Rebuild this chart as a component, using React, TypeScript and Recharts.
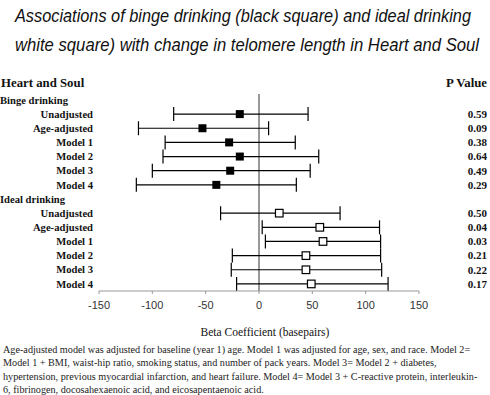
import { ScatterChart, Scatter, XAxis, YAxis, ErrorBar, ReferenceLine } from "recharts";

const TITLE_LINES = [
    "Associations of binge drinking (black square) and ideal drinking",
    "white square) with change in telomere length in Heart and Soul",
];

const ROW_LABELS = ["Unadjusted", "Age-adjusted", "Model 1", "Model 2", "Model 3", "Model 4"];

const BINGE_EST = [-18, -53, -28, -18, -27, -40];
const BINGE_LOW = [-80, -113, -88, -90, -100, -115];
const BINGE_HIGH = [46, 9, 34, 56, 48, 35];
const BINGE_P = ["0.59", "0.09", "0.38", "0.64", "0.49", "0.29"];

const IDEAL_EST = [19, 57, 60, 44, 44, 49];
const IDEAL_LOW = [-36, 3, 6, -25, -26, -21];
const IDEAL_HIGH = [76, 113, 114, 114, 115, 121];
const IDEAL_P = ["0.50", "0.04", "0.03", "0.21", "0.22", "0.17"];

const X_TICKS = [-150, -100, -50, 0, 50, 100, 150];

const FOOTNOTE = [
    "Age-adjusted model was adjusted for baseline (year 1) age. Model 1 was adjusted for age, sex, and race. Model 2=",
    "Model 1 + BMI, waist-hip ratio, smoking status, and number of pack years. Model 3= Model 2 + diabetes,",
    "hypertension, previous myocardial infarction, and heart failure. Model 4= Model 3 + C-reactive protein, interleukin-",
    "6, fibrinogen, docosahexaenoic acid, and eicosapentaenoic acid.",
];

// slot 0 = binge header, 1-6 binge rows, 7 = ideal header, 8-13 ideal rows
const SLOT_LABELS = ["Binge drinking", ...ROW_LABELS, "Ideal drinking", ...ROW_LABELS];
const HEADER_SLOTS = [0, 7];
const SLOT_P = ["", ...BINGE_P, "", ...IDEAL_P];
const SLOTS = SLOT_LABELS.map((_, i) => i);

const bingeData = BINGE_EST.map((est, i) => ({
    est, slot: i + 1, err: [est - BINGE_LOW[i], BINGE_HIGH[i] - est],
}));
const idealData = IDEAL_EST.map((est, i) => ({
    est, slot: i + 8, err: [est - IDEAL_LOW[i], IDEAL_HIGH[i] - est],
}));

const SERIF = "'Liberation Serif', 'Times New Roman', serif";
const SANS = "'Liberation Sans', Arial, sans-serif";

function LeftTick(props: any) {
    const { x, y, payload } = props;
    const isHeader = HEADER_SLOTS.includes(payload.value);
    return (
        <text
            x={isHeader ? x - 93 : x}
            y={y}
            dy="0.35em"
            textAnchor={isHeader ? "start" : "end"}
            fontFamily={SERIF}
            fontWeight="bold"
            fontSize={10.6}
            fill="#111"
        >
            {SLOT_LABELS[payload.value]}
        </text>
    );
}

function RightTick(props: any) {
    const { x, y, payload } = props;
    return (
        <text x={x} y={y} dy="0.35em" textAnchor="end" fontFamily={SERIF} fontWeight="bold" fontSize={11} fill="#111">
            {SLOT_P[payload.value]}
        </text>
    );
}

const blackSquare = (p: any) => <rect x={p.cx - 4} y={p.cy - 4} width={8} height={8} fill="#000" />;
const whiteSquare = (p: any) => (
    <rect x={p.cx - 3.8} y={p.cy - 3.8} width={7.6} height={7.6} fill="#fff" stroke="#000" strokeWidth={1.2} />
);

export default function App() {
    return (
        <div style={{ position: "absolute", left: 0, top: 0, width: 490, height: 395, background: "#fff", overflow: "hidden" }}>
            <svg width={490} height={64} style={{ position: "absolute", left: 0, top: 0 }}>
                <g transform="scale(1,1.2)">
                    <text x={15} y={18.3} fontFamily={SANS} fontStyle="italic" fontSize={15}
                        textLength={456} lengthAdjust="spacingAndGlyphs" fill="#111">
                        {TITLE_LINES[0]}
                    </text>
                    <text x={15} y={42.5} fontFamily={SANS} fontStyle="italic" fontSize={15}
                        textLength={464} lengthAdjust="spacingAndGlyphs" fill="#111">
                        {TITLE_LINES[1]}
                    </text>
                </g>
            </svg>
            <div style={{ position: "absolute", left: 1, top: 76, fontFamily: SERIF, fontWeight: "bold", fontSize: 12.8, color: "#111" }}>
                Heart and Soul
            </div>
            <div style={{ position: "absolute", right: 3, top: 76, fontFamily: SERIF, fontWeight: "bold", fontSize: 12.8, color: "#111" }}>
                P Value
            </div>
            <div style={{ position: "absolute", left: 0, top: 0 }}>
                <ScatterChart width={490} height={345} margin={{ top: 94, right: 0, bottom: 25, left: 0 }}>
                    <XAxis
                        type="number"
                        dataKey="est"
                        domain={[-150, 150]}
                        ticks={X_TICKS}
                        allowDataOverflow
                        stroke="#999"
                        tickSize={3}
                        tickMargin={7}
                        tick={{ fill: "#333", fontSize: 11, fontFamily: SANS }}
                        height={29}
                        label={{ value: "Beta Coefficient (basepairs)", position: "bottom", offset: 8, dx: 6, fill: "#111", fontSize: 11.5, fontFamily: SERIF }}
                    />
                    <YAxis
                        yAxisId="left"
                        type="number"
                        dataKey="slot"
                        domain={[-0.42, 13.5]}
                        reversed
                        allowDataOverflow
                        ticks={SLOTS}
                        interval={0}
                        width={99}
                        axisLine={false}
                        tickLine={false}
                        tickSize={0}
                        tickMargin={6}
                        tick={<LeftTick />}
                    />
                    <YAxis
                        yAxisId="right"
                        orientation="right"
                        type="number"
                        domain={[-0.42, 13.5]}
                        reversed
                        allowDataOverflow
                        ticks={SLOTS}
                        interval={0}
                        width={71}
                        axisLine={false}
                        tickLine={false}
                        tickSize={0}
                        tickMargin={68}
                        tick={<RightTick />}
                    />
                    <ReferenceLine yAxisId="left" x={0} stroke="#999" strokeWidth={2} />
                    <Scatter yAxisId="left" data={bingeData} shape={blackSquare} isAnimationActive={false}>
                        <ErrorBar dataKey="err" direction="x" width={7} stroke="#000" strokeWidth={1.2} />
                    </Scatter>
                    <Scatter yAxisId="left" data={idealData} shape={whiteSquare} isAnimationActive={false}>
                        <ErrorBar dataKey="err" direction="x" width={7} stroke="#000" strokeWidth={1.2} />
                    </Scatter>
                </ScatterChart>
            </div>
            <div style={{ position: "absolute", left: 3, top: 343, fontFamily: SERIF, fontSize: 10.2, lineHeight: "13.3px", color: "#222", whiteSpace: "nowrap" }}>
                {FOOTNOTE.map((line, i) => (
                    <div key={i}>{line}</div>
                ))}
            </div>
        </div>
    );
}
